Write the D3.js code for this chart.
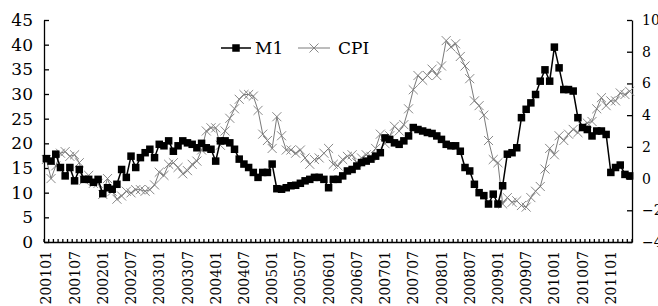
<!DOCTYPE html>
<html>
<head>
<meta charset="utf-8">
<script src="https://cdn.jsdelivr.net/npm/d3@7"></script>
<style>
  body { margin: 0; background: #fff; }
  .axis path, .axis line { stroke: #000; stroke-width: 1.3; }
  .axis text { font-family: "DejaVu Serif", serif; fill: #000; }
</style>
</head>
<body>
<svg id="chart"></svg>
<script>
// month categories 200101 .. 201105
var months = [];
for (var yr = 2001; yr <= 2011; yr++) {
  for (var mo = 1; mo <= 12; mo++) {
    if (yr === 2011 && mo > 5) break;
    months.push(yr + (mo < 10 ? "0" : "") + mo);
  }
}

var tickLabels = ["200101", "200107", "200201", "200207", "200301", "200307",
  "200401", "200407", "200501", "200507", "200601", "200607", "200701",
  "200707", "200801", "200807", "200901", "200907", "201001", "201007", "201101"];

var leftTicks = [0, 5, 10, 15, 20, 25, 30, 35, 40, 45];
var rightTicks = [-4, -2, 0, 2, 4, 6, 8, 10];

// M1 growth (left axis)
var m1 = [
  16.9, 16.4, 17.8, 15.1, 13.4, 15.1, 12.4, 14.7, 12.7, 12.7, 12.1, 12.7,
  9.8, 11.0, 10.7, 11.7, 14.7, 13.1, 17.4, 15.1, 17.1, 18.1, 18.8, 17.1,
  19.8, 19.5, 20.5, 18.4, 19.5, 20.5, 20.1, 19.8, 19.1, 20.0, 19.1, 18.8,
  16.4, 20.5, 20.5, 20.1, 18.8, 16.8, 15.8, 15.1, 14.1, 13.1, 14.1, 14.1,
  15.8, 10.8, 10.7, 11.0, 11.4, 11.5, 11.9, 12.4, 12.7, 13.1, 13.1, 12.7,
  11.0, 12.7, 12.7, 13.4, 14.4, 14.7, 15.4, 16.1, 16.4, 16.8, 17.4, 18.1,
  21.1, 20.8, 20.1, 19.8, 20.5, 21.5, 23.2, 22.8, 22.5, 22.2, 22.0, 21.5,
  20.8, 19.8, 19.5, 19.5, 18.4, 15.1, 14.4, 11.7, 10.0, 9.4, 7.7, 9.7,
  7.7, 11.4, 17.8, 18.1, 19.1, 25.2, 26.9, 28.2, 29.9, 32.6, 34.9, 32.6,
  39.5, 35.3, 30.9, 30.9, 30.6, 25.2, 23.2, 22.8, 21.5, 22.5, 22.5, 21.8,
  14.1, 15.1, 15.6, 13.7, 13.4
];

// CPI (right axis)
var cpi = [
  1.2, 0.0, 0.8, 1.6, 1.7, 1.4, 1.5, 1.0, -0.1, 0.2, -0.3, -0.3,
  -1.0, 0.0, -0.8, -1.3, -1.1, -0.8, -0.9, -0.7, -0.7, -0.8, -0.7, -0.4,
  0.4, 0.2, 0.9, 1.0, 0.7, 0.3, 0.5, 0.9, 1.1, 1.8, 3.0, 3.2,
  3.2, 2.1, 3.0, 3.8, 4.4, 5.0, 5.3, 5.3, 5.2, 4.3, 2.8, 2.4,
  1.9, 3.9, 2.7, 1.8, 1.8, 1.6, 1.8, 1.3, 0.9, 1.2, 1.3, 1.6,
  1.9, 0.9, 0.8, 1.2, 1.4, 1.5, 1.0, 1.3, 1.5, 1.4, 1.9, 2.8,
  2.2, 2.7, 3.3, 3.0, 3.4, 4.4, 5.6, 6.5, 6.2, 6.5, 6.9, 6.5,
  7.1, 8.7, 8.3, 8.5, 7.7, 7.1, 6.3, 4.9, 4.6, 4.0, 2.4, 1.2,
  1.0, -1.6, -1.2, -1.5, -1.4, -1.7, -1.8, -1.2, -0.8, -0.5, 0.6, 1.9,
  1.5, 2.7, 2.4, 2.8, 3.1, 2.9, 3.3, 3.5, 3.6, 4.4, 5.1, 4.6,
  4.9, 4.9, 5.4, 5.3, 5.5
];

// plot area
var margin = { top: 20, right: 26, bottom: 64, left: 44 },
  totalW = 658, totalH = 306,
  width = totalW - margin.left - margin.right,
  height = totalH - margin.top - margin.bottom;

var svg = d3.select("#chart")
  .attr("width", totalW)
  .attr("height", totalH);

var g = svg.append("g")
  .attr("transform", "translate(" + margin.left + "," + margin.top + ")");

// scales
var x = d3.scaleBand().domain(months).range([0, width]).padding(0);
var yL = d3.scaleLinear().domain([0, 45]).range([height, 0]);
var yR = d3.scaleLinear().domain([-4, 10]).range([height, 0]);

// left axis
g.append("g")
  .attr("class", "axis")
  .call(d3.axisLeft(yL).tickValues(leftTicks).tickSizeInner(-5).tickSizeOuter(0).tickPadding(11))
  .selectAll("text").style("font-size", "17px");

// right axis (labels run off the right edge, as in the original)
g.append("g")
  .attr("class", "axis")
  .attr("transform", "translate(" + width + ",0)")
  .call(d3.axisRight(yR).tickValues(rightTicks).tickFormat(d3.format("d"))
    .tickSizeInner(-5).tickSizeOuter(0).tickPadding(10))
  .selectAll("text").style("font-size", "14px");

// bottom axis: labels every 6 months
var xAxis = g.append("g")
  .attr("class", "axis")
  .attr("transform", "translate(0," + height + ")")
  .call(d3.axisBottom(x).tickValues(tickLabels).tickSize(0).tickSizeOuter(0));

xAxis.selectAll("text")
  .style("font-size", "14px")
  .style("text-anchor", "end")
  .attr("transform", "translate(0,9) rotate(-90)")
  .attr("x", 0)
  .attr("y", 0)
  .attr("dx", 0)
  .attr("dy", "0.36em");

// small tick marks between categories
xAxis.selectAll(".minor")
  .data(months.concat(["end"]))
  .enter().append("line")
  .attr("class", "minor")
  .attr("x1", function(d) { return d === "end" ? width : x(d); })
  .attr("x2", function(d) { return d === "end" ? width : x(d); })
  .attr("y1", 0)
  .attr("y2", -3);

var cx = function(d, i) { return x(months[i]) + x.bandwidth() / 2; };

// CPI line
var cpiLine = d3.line()
  .x(function(d, i) { return cx(d, i); })
  .y(function(d) { return yR(d); });

g.append("path")
  .datum(cpi)
  .attr("fill", "none")
  .attr("stroke", "#7a7a7a")
  .attr("stroke-width", 1)
  .attr("d", cpiLine);

var cross = d3.symbol().type(d3.symbolX).size(55);
g.selectAll(".cpiPt")
  .data(cpi)
  .enter().append("path")
  .attr("class", "cpiPt")
  .attr("d", cross)
  .attr("fill", "none")
  .attr("stroke", "#7a7a7a")
  .attr("stroke-width", 0.9)
  .attr("transform", function(d, i) { return "translate(" + cx(d, i) + "," + yR(d) + ")"; });

// M1 line
var m1Line = d3.line()
  .x(function(d, i) { return cx(d, i); })
  .y(function(d) { return yL(d); });

g.append("path")
  .datum(m1)
  .attr("fill", "none")
  .attr("stroke", "#000")
  .attr("stroke-width", 1.5)
  .attr("d", m1Line);

var sq = 7.5;
g.selectAll(".m1Pt")
  .data(m1)
  .enter().append("rect")
  .attr("class", "m1Pt")
  .attr("x", function(d, i) { return cx(d, i) - sq / 2; })
  .attr("y", function(d) { return yL(d) - sq / 2; })
  .attr("width", sq)
  .attr("height", sq)
  .attr("fill", "#000");

// legend
var legend = svg.append("g").attr("transform", "translate(221,48)");

legend.append("line").attr("x1", 0).attr("x2", 30).attr("y1", 0).attr("y2", 0)
  .attr("stroke", "#000").attr("stroke-width", 1.5);
legend.append("rect").attr("x", 15 - sq / 2).attr("y", -sq / 2)
  .attr("width", sq).attr("height", sq).attr("fill", "#000");
legend.append("text").attr("x", 34).attr("y", 6)
  .style("font-family", "DejaVu Serif, serif").style("font-size", "17px")
  .text("M1");

legend.append("line").attr("x1", 77).attr("x2", 109).attr("y1", 0).attr("y2", 0)
  .attr("stroke", "#7a7a7a").attr("stroke-width", 1);
legend.append("path").attr("d", cross).attr("transform", "translate(93,0)")
  .attr("fill", "none").attr("stroke", "#7a7a7a").attr("stroke-width", 0.9);
legend.append("text").attr("x", 117).attr("y", 6)
  .style("font-family", "DejaVu Serif, serif").style("font-size", "17px")
  .text("CPI");
</script>
</body>
</html>
